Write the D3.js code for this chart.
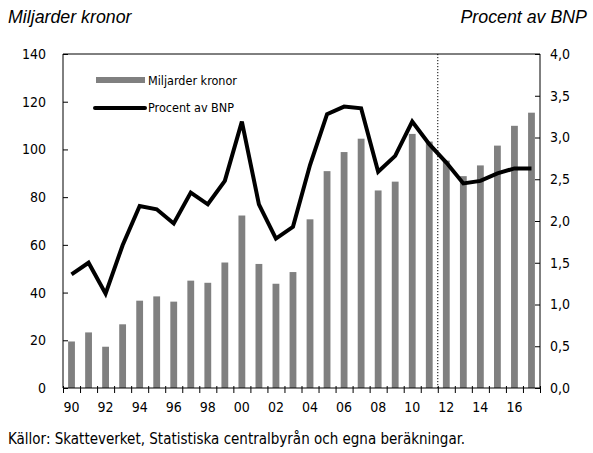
<!DOCTYPE html>
<html><head><meta charset="utf-8">
<script src="https://cdn.jsdelivr.net/npm/d3@7"></script>
<style>
body{margin:0;background:#fff;}
svg{display:block;}
.cond{font-family:"Liberation Sans Narrow","DejaVu Sans Condensed",sans-serif;}
</style></head>
<body><svg id="chart" width="593" height="453"></svg>
<script>
const years = [1990,1991,1992,1993,1994,1995,1996,1997,1998,1999,2000,2001,2002,2003,2004,2005,2006,2007,2008,2009,2010,2011,2012,2013,2014,2015,2016,2017];
const miljarder = [19.5,23.3,17.3,26.7,36.6,38.4,36.2,45,44.1,52.6,72.3,52,43.7,48.6,70.7,90.9,98.9,104.5,82.8,86.5,106.5,103.3,95.3,88.8,93.3,101.6,109.9,115.4];
const procent = [1.36,1.50,1.13,1.71,2.18,2.14,1.97,2.34,2.20,2.48,3.19,2.20,1.79,1.93,2.67,3.28,3.37,3.35,2.59,2.78,3.19,2.92,2.70,2.45,2.48,2.57,2.63,2.63];
const leftTicks = [0,20,40,60,80,100,120,140];
const rightTicks = [0,0.5,1,1.5,2,2.5,3,3.5,4];
const labelYears = [1990,1992,1994,1996,1998,2000,2002,2004,2006,2008,2010,2012,2014,2016];
const forecastStart = 2012;

const svg = d3.select("#chart");
const L = 63, R = 540, T = 54, B = 388;

const x = d3.scaleBand().domain(years).range([L, R]).paddingInner(0.6).paddingOuter(0.3);
const xb = d3.scaleLinear().domain([0, years.length]).range([L, R]);
const yL = d3.scaleLinear().domain([0, 140]).range([B, T]);
const yR = d3.scaleLinear().domain([0, 4]).range([B, T]);

// bars
svg.append("g").selectAll("rect").data(years).join("rect")
  .attr("x", d => x(d)).attr("width", x.bandwidth())
  .attr("y", (d,i) => yL(miljarder[i])).attr("height", (d,i) => B - yL(miljarder[i]))
  .attr("fill", "#808080");

// dotted forecast line
const xf = xb(years.indexOf(forecastStart));
svg.append("line").attr("x1", xf).attr("x2", xf).attr("y1", T).attr("y2", B)
  .attr("stroke", "#000").attr("stroke-width", 1).attr("stroke-dasharray", "1.2,1.8");

// line
const line = d3.line().x((d,i) => x(years[i]) + x.bandwidth()/2).y(d => yR(d));
svg.append("path").datum(procent).attr("d", line)
  .attr("fill", "none").attr("stroke", "#000").attr("stroke-width", 4).attr("stroke-linejoin", "miter");

// frame
svg.append("line").attr("x1", L).attr("x2", R).attr("y1", T).attr("y2", T).attr("stroke", "#000").attr("stroke-width", 1);

// left axis
const gl = svg.append("g").attr("class", "cond").attr("transform", `translate(${L},0)`)
  .call(d3.axisLeft(yL).tickValues(leftTicks).tickSize(-5).tickPadding(17).tickFormat(d3.format("d")));
gl.select(".domain").attr("d", `M0,${T}V${B}`);
gl.selectAll("text").attr("font-size", 14).attr("font-family", null);

// right axis
const gr = svg.append("g").attr("class", "cond").attr("transform", `translate(${R},0)`)
  .call(d3.axisRight(yR).tickValues(rightTicks).tickSize(-5).tickPadding(10).tickFormat(d => d3.format(".1f")(d).replace(".", ",")));
gr.select(".domain").attr("d", `M0,${T}V${B}`);
gr.selectAll("text").attr("font-size", 14).attr("font-family", null);

// bottom axis: boundary ticks
const gb = svg.append("g").attr("transform", `translate(0,${B})`)
  .call(d3.axisBottom(xb).tickValues(d3.range(years.length + 1)).tickSize(5).tickFormat(""));
gb.select(".domain").attr("d", `M${L},0H${R}`);
gb.selectAll(".tick line").attr("y1", -2);

// bottom labels
const gx = svg.append("g").attr("class", "cond").attr("transform", `translate(0,${B})`)
  .call(d3.axisBottom(x).tickValues(labelYears).tickSize(0).tickPadding(14).tickFormat(d => String(d).slice(2)));
gx.select(".domain").remove();
gx.selectAll("text").attr("font-size", 14).attr("font-family", null);

// titles
svg.append("text").attr("x", 8).attr("y", 23).attr("font-family", "Liberation Sans, Arial, sans-serif")
  .attr("font-style", "italic").attr("font-size", 17.8).text("Miljarder kronor");
svg.append("text").attr("x", 587).attr("y", 23).attr("text-anchor", "end").attr("font-family", "Liberation Sans, Arial, sans-serif")
  .attr("font-style", "italic").attr("font-size", 17.8).text("Procent av BNP");

// legend
const lg = svg.append("g").attr("class", "cond");
lg.append("rect").attr("x", 96).attr("y", 77).attr("width", 49).attr("height", 6).attr("fill", "#808080");
lg.append("text").attr("x", 148).attr("y", 85).attr("font-size", 12.5).text("Miljarder kronor");
lg.append("line").attr("x1", 95).attr("x2", 145).attr("y1", 108).attr("y2", 108).attr("stroke", "#000").attr("stroke-width", 4).attr("stroke-linecap", "round");
lg.append("text").attr("x", 148).attr("y", 112).attr("font-size", 12.5).text("Procent av BNP");

// source
svg.append("text").attr("class", "cond").attr("x", 8).attr("y", 444).attr("font-size", 15)
  .text("Källor: Skatteverket, Statistiska centralbyrån och egna beräkningar.");
</script></body></html>
